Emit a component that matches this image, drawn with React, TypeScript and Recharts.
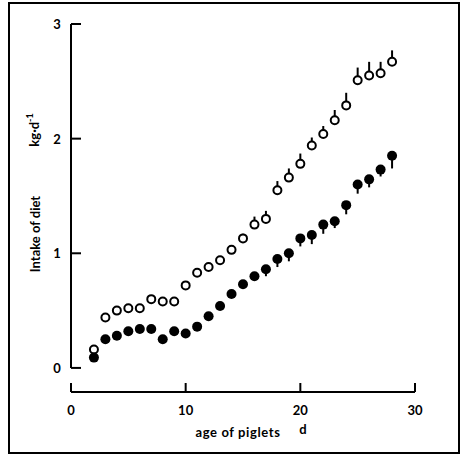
import React from 'react';
import { ScatterChart, Scatter, XAxis, YAxis, ErrorBar, ReferenceLine } from 'recharts';

const days = [2, 3, 4, 5, 6, 7, 8, 9, 10, 11, 12, 13, 14, 15, 16, 17, 18, 19, 20, 21, 22, 23, 24, 25, 26, 27, 28];
const openIntake = [0.16, 0.44, 0.5, 0.52, 0.52, 0.6, 0.58, 0.58, 0.72, 0.83, 0.88, 0.94, 1.03, 1.13, 1.25, 1.3, 1.55, 1.66, 1.78, 1.94, 2.04, 2.16, 2.29, 2.51, 2.55, 2.57, 2.67];
const openErrUp = [0, 0, 0, 0, 0, 0.03, 0, 0.02, 0, 0, 0, 0, 0, 0.04, 0.07, 0.07, 0.08, 0.08, 0.09, 0.07, 0.07, 0.09, 0.11, 0.11, 0.12, 0.1, 0.1];
const filledIntake = [0.09, 0.25, 0.28, 0.32, 0.34, 0.34, 0.25, 0.32, 0.3, 0.36, 0.45, 0.54, 0.645, 0.73, 0.8, 0.86, 0.95, 1.0, 1.13, 1.16, 1.25, 1.28, 1.42, 1.6, 1.645, 1.73, 1.85];
const filledErrDown = [0, 0, 0, 0, 0, 0, 0, 0, 0, 0, 0, 0, 0, 0, 0.03, 0.06, 0.07, 0.07, 0.07, 0.08, 0.08, 0.06, 0.08, 0.08, 0.07, 0.06, 0.11];
const xTicks = [0, 10, 20, 30];
const yTicks = [0, 1, 2, 3];

const openData = days.map((d, i) => ({ day: d, v: openIntake[i], err: [0, openErrUp[i]] }));
const filledData = days.map((d, i) => ({ day: d, v: filledIntake[i], err: [filledErrDown[i], 0] }));

const FONT = 'Lato, "DejaVu Sans", sans-serif';

const YTick = (props: any) => {
  const { x, y, payload } = props;
  return (
    <g>
      <line x1={x} y1={y} x2={x + 10} y2={y} stroke="#000" strokeWidth={2} />
      <text x={x - 14} y={y} textAnchor="middle" dominantBaseline="central" fontFamily={FONT} fontWeight={700} fontSize={13} fill="#000">
        {payload.value}
      </text>
    </g>
  );
};

const XTick = (props: any) => {
  const { x, y, payload } = props;
  return (
    <g>
      <line x1={x} y1={y} x2={x} y2={y - 9} stroke="#000" strokeWidth={2} />
      <text x={x} y={y + 18} textAnchor="middle" dominantBaseline="central" fontFamily={FONT} fontWeight={700} fontSize={13} fill="#000">
        {payload.value}
      </text>
    </g>
  );
};

const OpenDot = (props: any) => {
  const { cx, cy } = props;
  return <circle cx={cx} cy={cy} r={4} fill="#fff" stroke="#000" strokeWidth={2} />;
};
const FilledDot = (props: any) => {
  const { cx, cy } = props;
  return <circle cx={cx} cy={cy} r={5} fill="#000" stroke="none" />;
};

export default function App() {
  return (
    <div style={{ position: 'absolute', left: 0, top: 0, width: 464, height: 455, background: '#fff', overflow: 'hidden' }}>
      <div style={{ position: 'absolute', left: 8, top: 2, width: 452, height: 452, border: '2px solid #000', boxSizing: 'border-box' }} />
      <div style={{ position: 'absolute', left: 0, top: 0 }}>
        <ScatterChart width={464} height={455} margin={{ top: 24, right: 49, bottom: 0, left: 0 }}>
          <XAxis
            type="number"
            dataKey="day"
            domain={[0, 30]}
            ticks={xTicks}
            axisLine={{ stroke: '#000', strokeWidth: 2 }}
            tickLine={false}
            tickSize={0}
            tickMargin={0}
            tick={<XTick />}
            height={63}
            interval={0}
          />
          <YAxis
            type="number"
            dataKey="v"
            domain={[-0.21, 3]}
            ticks={yTicks}
            axisLine={false}
            tickLine={false}
            tickSize={0}
            tickMargin={0}
            tick={<YTick />}
            width={71}
            interval={0}
            allowDataOverflow
          />
          <ReferenceLine segment={[{ x: 0, y: 0 }, { x: 0, y: 3 }]} stroke="#000" strokeWidth={2} />
          <Scatter data={openData} shape={<OpenDot />} isAnimationActive={false}>
            <ErrorBar dataKey="err" direction="y" width={0} stroke="#000" strokeWidth={2} isAnimationActive={false} />
          </Scatter>
          <Scatter data={filledData} shape={<FilledDot />} isAnimationActive={false}>
            <ErrorBar dataKey="err" direction="y" width={0} stroke="#000" strokeWidth={2} isAnimationActive={false} />
          </Scatter>
        </ScatterChart>
      </div>
      <svg width={464} height={455} style={{ position: 'absolute', left: 0, top: 0, pointerEvents: 'none' }}>
        <text x={35} y={234} transform="rotate(-90 35 234)" textAnchor="middle" dominantBaseline="central" fontFamily={FONT} fontWeight={700} fontSize={13} fill="#000">
          Intake of diet
        </text>
        <text x={34} y={130} transform="rotate(-90 34 130)" textAnchor="middle" dominantBaseline="central" fontFamily={FONT} fontWeight={700} fontSize={13} fill="#000">
          kg·d<tspan fontSize={9} dy={-5}>-1</tspan>
        </text>
        <text x={238} y={432} textAnchor="middle" dominantBaseline="central" fontFamily={FONT} fontWeight={700} fontSize={13} letterSpacing={0.6} fill="#000">
          age of piglets
        </text>
        <text x={303} y={429} textAnchor="middle" dominantBaseline="central" fontFamily={FONT} fontWeight={700} fontSize={13} fill="#000">
          d
        </text>
      </svg>
    </div>
  );
}
